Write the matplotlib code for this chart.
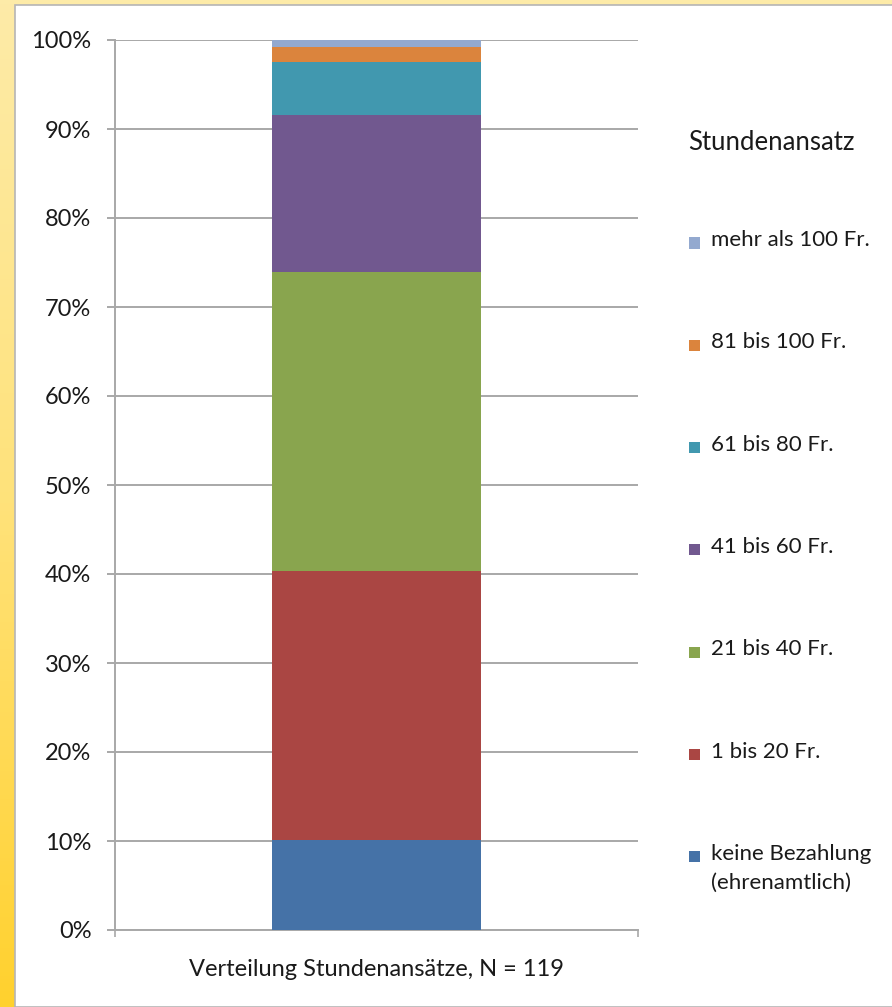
import numpy as np
import matplotlib
matplotlib.use("Agg")
from matplotlib import pyplot as plt
from matplotlib.patches import Rectangle
from matplotlib.colors import LinearSegmentedColormap

plt.rcParams['font.family'] = ['Lato', 'DejaVu Sans']

# Data: Stundenansatz distribution, N = 119
category = 'Verteilung Stundenansätze, N = 119'
groups = ['keine Bezahlung\n(ehrenamtlich)', '1 bis 20 Fr.', '21 bis 40 Fr.',
          '41 bis 60 Fr.', '61 bis 80 Fr.', '81 bis 100 Fr.', 'mehr als 100 Fr.']
counts = [12, 36, 40, 21, 7, 2, 1]
colors = ['#4572A7', '#AA4643', '#89A54E', '#71588F', '#4198AF', '#DB843D', '#93A9CF']
yticks = [0, 10, 20, 30, 40, 50, 60, 70, 80, 90, 100]

shares = np.array(counts) / sum(counts) * 100

W, H = 892, 1007
fig = plt.figure(figsize=(W / 100, H / 100), dpi=100)


def fx(px):
    return px / W


def fy(py):
    return 1 - py / H


# yellow frame behind the white panel
bg = fig.add_axes([0, 0, 1, 1], zorder=-10)
grad = np.linspace(0, 1, 256).reshape(-1, 1)
cmap = LinearSegmentedColormap.from_list('frame', ['#FDEBA8', '#FFE27A', '#FFD12E'])
bg.imshow(grad, aspect='auto', cmap=cmap, extent=[0, 1, 0, 1], origin='upper')
bg.add_patch(Rectangle((fx(15), 0), 1, fy(5), facecolor='white',
                       edgecolor='#B5B5B5', lw=1.2))
bg.set_xlim(0, 1)
bg.set_ylim(0, 1)
bg.axis('off')

fs = 17

# main chart
ax = fig.add_axes([fx(115), fy(930), fx(638) - fx(115), fy(40) - fy(930)])
bottom = 0
for share, color in zip(shares, colors):
    ax.bar(0, share, bottom=bottom, width=0.4, color=color, zorder=3)
    bottom += share

ax.set_xlim(-0.5, 0.5)
ax.set_ylim(0, 100)
ax.set_yticks(yticks, [f'{v}%' for v in yticks])
ax.yaxis.grid(True, color='#A8A8A8', lw=1.4, zorder=0)
ax.set_axisbelow(True)
ax.tick_params(axis='y', length=6, width=1.4, color='#A8A8A8', labelsize=fs,
               pad=11, labelcolor='#1A1A1A')
ax.set_xticks([0], [category])
ax.tick_params(axis='x', which='major', length=0, pad=21, labelsize=fs,
               labelcolor='#1A1A1A')
ax.set_xticks([-0.5, 0.5], minor=True)
ax.tick_params(axis='x', which='minor', length=5, width=1.2, color='#A8A8A8')
for s in ['top', 'right']:
    ax.spines[s].set_visible(False)
for s in ['left', 'bottom']:
    ax.spines[s].set_color('#A8A8A8')
    ax.spines[s].set_linewidth(1.4)

# legend drawn by hand to mimic Excel layout
bg.text(fx(688), fy(142), 'Stundenansatz', fontsize=18.5, va='center', ha='left',
        color='#1A1A1A')
y0, step = 243, 102.3
for i, (label, color) in enumerate(zip(groups[::-1], colors[::-1])):
    yc = y0 + i * step
    bg.add_patch(Rectangle((fx(689), fy(yc + 5.5)), fx(11), 11 / H,
                           facecolor=color, edgecolor='none'))
    bg.text(fx(711), fy(yc - 13), label, fontsize=16, va='top', ha='left',
            color='#1A1A1A', linespacing=1.55)

fig.savefig('out.png', dpi=100)
